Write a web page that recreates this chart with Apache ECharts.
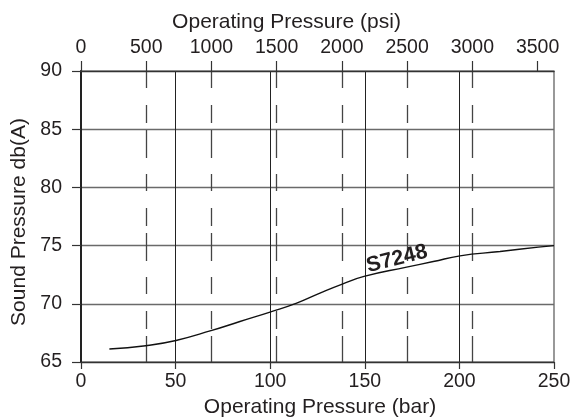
<!DOCTYPE html>
<html><head><meta charset="utf-8">
<script src="https://cdn.jsdelivr.net/npm/echarts@6/dist/echarts.min.js"></script>
<style>html,body{margin:0;padding:0;background:#fff}#c{width:578px;height:418px}</style>
</head><body><div id="c"></div>
<script>
// ---- data ----
const barValues   = [15, 34.2, 50.2, 68.7, 84.0, 99.9, 114.0, 126.3, 138.1, 149.6, 172.1, 186.2, 200.3, 221.5, 241.7, 250];
const soundValues = [66.12, 66.40, 66.85, 67.69, 68.48, 69.29, 70.06, 70.92, 71.69, 72.35, 73.15, 73.63, 74.12, 74.49, 74.87, 75.0];
const barTicks = [0, 50, 100, 150, 200, 250];
const psiTicks = [0, 500, 1000, 1500, 2000, 2500, 3000, 3500];
const yTicks = [65, 70, 75, 80, 85, 90];
const seriesName = 'S7248';
const seriesLabelAt = [167, 73.85];
const PSI_PER_BAR = 14.5038;
const xTitleBottom = 'Operating Pressure (bar)';
const xTitleTop = 'Operating Pressure (psi)';
const yTitle = 'Sound Pressure db(A)';

const FONT = "'Liberation Sans', Arial, Helvetica, sans-serif";
const TXT = '#231f20';
const chart = echarts.init(document.getElementById('c'), null, {renderer: 'canvas'});
const barMax = barTicks[barTicks.length - 1];
const plain = v => String(v);

chart.setOption({
  animation: false,
  backgroundColor: '#fff',
  grid: {left: 81, right: 24, top: 71, bottom: 56, show: true, borderColor: '#555', borderWidth: 1.2,
         backgroundColor: 'transparent', outerBoundsMode: 'none', containLabel: false},
  xAxis: [{
    type: 'value', position: 'bottom', min: barTicks[0], max: barMax, interval: 50,
    axisLine: {show: true, lineStyle: {color: '#333', width: 1.4}},
    axisTick: {show: true, inside: false, length: 7, lineStyle: {color: '#333', width: 1.2}},
    axisLabel: {show: true, margin: 10, color: TXT, fontSize: 19.5, fontFamily: FONT, formatter: plain},
    splitLine: {show: true, showMinLine: false, showMaxLine: false, lineStyle: {color: '#222', width: 1}},
    name: xTitleBottom, nameLocation: 'middle', nameGap: 32,
    nameTextStyle: {color: TXT, fontSize: 21, fontFamily: FONT, padding: [0, 0, 0, 5]}
  }, {
    type: 'value', position: 'top', min: 0, max: barMax * PSI_PER_BAR,
    axisLine: {show: true, lineStyle: {color: '#333', width: 1.4}},
    axisTick: {show: true, inside: false, length: 10, customValues: psiTicks, lineStyle: {color: '#333', width: 1.2}},
    axisLabel: {show: true, margin: 13, customValues: psiTicks, color: TXT, fontSize: 19.5, fontFamily: FONT, formatter: plain},
    splitLine: {show: true, showMinLine: false, showMaxLine: false,
                lineStyle: {color: '#444', width: 1.3, type: [17, 17, 18, 7, 28, 16]}},
    name: xTitleTop, nameLocation: 'middle', nameGap: 38,
    nameTextStyle: {color: TXT, fontSize: 21, fontFamily: FONT, padding: [0, 62, 0, 0]}
  }],
  yAxis: {
    type: 'value', min: yTicks[0], max: yTicks[yTicks.length - 1], interval: 5,
    axisLine: {show: true, lineStyle: {color: '#222', width: 2}},
    axisTick: {show: true, inside: false, length: 9, lineStyle: {color: '#333', width: 1.2}},
    axisLabel: {show: true, margin: 19, color: TXT, fontSize: 19.5, fontFamily: FONT, formatter: plain},
    splitLine: {show: true, showMinLine: false, showMaxLine: false, lineStyle: {color: '#6a6a6a', width: 1.3}},
    name: yTitle, nameLocation: 'middle', nameGap: 46,
    nameTextStyle: {color: TXT, fontSize: 21, fontFamily: FONT, padding: [0, 11, 0, 0]}
  },
  series: [{
    name: seriesName, type: 'line', xAxisIndex: 0, yAxisIndex: 0,
    data: barValues.map((b, i) => [b, soundValues[i]]),
    smooth: 0.5, showSymbol: false, symbol: 'none',
    lineStyle: {color: '#111', width: 1.4},
    markPoint: {
      symbol: 'circle', symbolSize: 0, silent: true,
      data: [{coord: seriesLabelAt, value: seriesName}],
      label: {show: true, position: 'inside', formatter: seriesName, rotate: 14,
              color: TXT, fontSize: 21.5, fontWeight: 'bold', fontFamily: FONT}
    }
  }]
});
</script></body></html>
